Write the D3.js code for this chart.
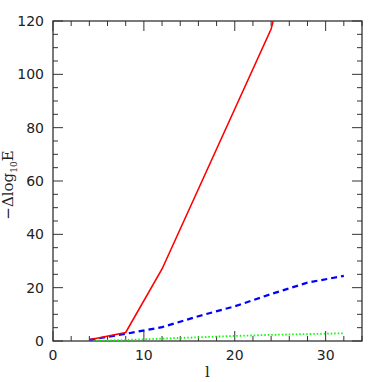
<!DOCTYPE html>
<html><head><meta charset="utf-8">
<script src="https://cdn.jsdelivr.net/npm/d3@7"></script>
<style>body{margin:0;background:#fff}</style>
</head><body>
<svg id="c" width="382" height="382"></svg>
<script>
const lValues = [4, 8, 12, 16, 20, 24, 28, 32];
const redSolid = [0.5, 3.2, 27, 57, 87, 117, 170, null];
const blueDashed = [0.4, 2.7, 5.2, 9.3, 13.0, 17.6, 21.9, 24.4];
const greenDotted = [0.0, 0.4, 0.9, 1.4, 1.9, 2.3, 2.6, 2.9];
const xMajorTicks = [0, 10, 20, 30];
const yMajorTicks = [0, 20, 40, 60, 80, 100, 120];

const svg = d3.select("#c");
const L = 53, R = 362, T = 21, B = 341;
const x = d3.scaleLinear().domain([0, 34]).range([L, R]);
const y = d3.scaleLinear().domain([0, 120]).range([B, T]);

svg.append("defs").append("clipPath").attr("id", "clip")
  .append("rect").attr("x", L).attr("y", T).attr("width", R - L).attr("height", B - T);

const ink = "#333";
const xMinor = d3.range(0, 34.01, 2);
const yMinor = d3.range(0, 120.01, 5);
const g = svg.append("g");
xMinor.forEach(v => {
  const len = xMajorTicks.includes(v) ? 10 : 5;
  g.append("line").attr("x1", x(v)).attr("x2", x(v)).attr("y1", B).attr("y2", B - len).attr("stroke", ink);
  g.append("line").attr("x1", x(v)).attr("x2", x(v)).attr("y1", T).attr("y2", T + len).attr("stroke", ink);
});
yMinor.forEach(v => {
  const len = yMajorTicks.includes(v) ? 10 : 5;
  g.append("line").attr("y1", y(v)).attr("y2", y(v)).attr("x1", L).attr("x2", L + len).attr("stroke", ink);
  g.append("line").attr("y1", y(v)).attr("y2", y(v)).attr("x1", R).attr("x2", R - len).attr("stroke", ink);
});
g.append("rect").attr("x", L).attr("y", T).attr("width", R - L).attr("height", B - T)
  .attr("fill", "none").attr("stroke", ink).attr("stroke-width", 1.3);

const lab = svg.append("g").attr("font-family", "DejaVu Sans").attr("font-size", 14).attr("fill", "#222");
yMajorTicks.forEach(v => {
  lab.append("text").attr("x", L - 9).attr("y", y(v)).attr("dy", "0.36em").attr("text-anchor", "end").text(v);
});
xMajorTicks.forEach(v => {
  lab.append("text").attr("x", x(v)).attr("y", B + 19).attr("text-anchor", "middle").text(v);
});

svg.append("text").attr("x", x(17)).attr("y", 377).attr("text-anchor", "middle")
  .attr("font-family", "DejaVu Serif").attr("font-size", 15).attr("fill", "#222").text("l");
const yt = svg.append("text").attr("transform", "translate(13,185) rotate(-90)")
  .attr("text-anchor", "middle").attr("font-family", "DejaVu Serif").attr("font-size", 15).attr("fill", "#222");
yt.append("tspan").text("−Δlog");
yt.append("tspan").attr("font-size", 9).attr("dy", 4).text("10");
yt.append("tspan").attr("dy", -4).text("E");

const line = d3.line().defined(d => d[1] != null).x(d => x(d[0])).y(d => y(d[1]));
const plot = svg.append("g").attr("clip-path", "url(#clip)");
function series(vals, color, dash, w) {
  plot.append("path").datum(lValues.map((l, i) => [l, vals[i]]))
    .attr("d", line).attr("fill", "none").attr("stroke", color).attr("stroke-width", w)
    .attr("stroke-dasharray", dash);
}
series(greenDotted, "#00ff00", "1.5,2", 1.8);
series(blueDashed, "#0000ff", "6,4", 2.2);
series(redSolid, "#ff0000", null, 1.6);
</script>
</body></html>
